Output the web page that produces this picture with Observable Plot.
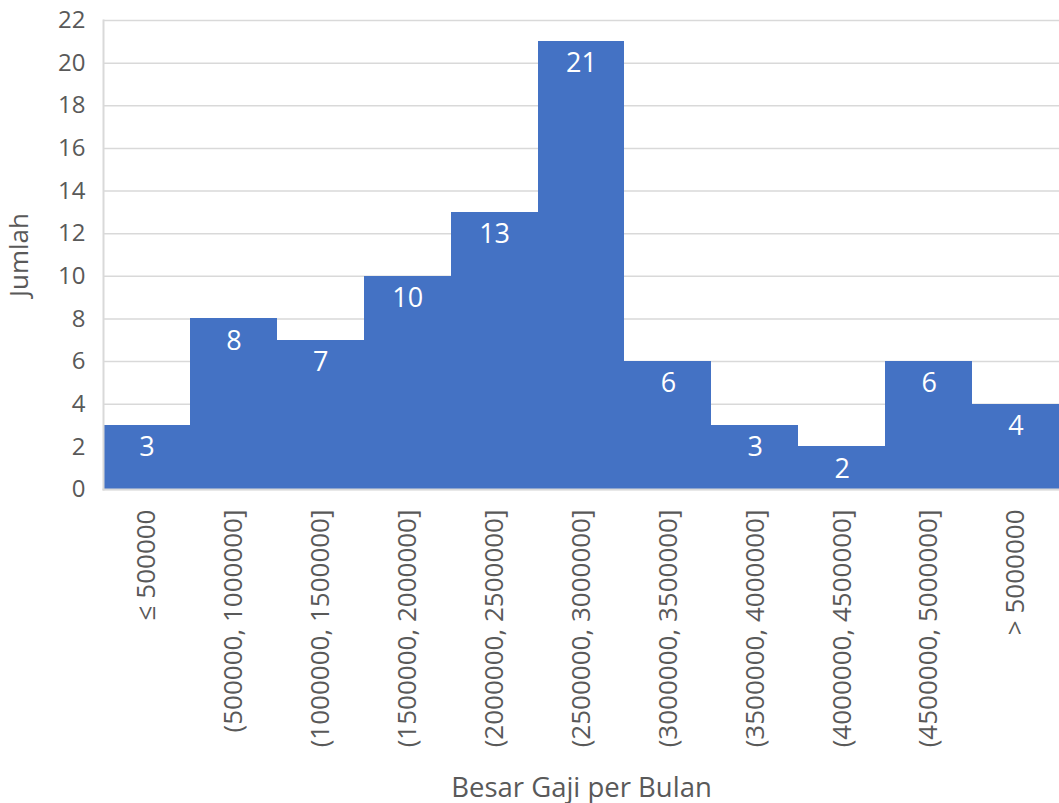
<!DOCTYPE html>
<html>
<head>
<meta charset="utf-8">
<script src="https://cdn.jsdelivr.net/npm/d3@7"></script>
<script src="https://cdn.jsdelivr.net/npm/@observablehq/plot@0.6"></script>
<style>
  html, body { margin: 0; padding: 0; background: #fff; }
</style>
</head>
<body>
<div id="chart"></div>
<script>
// Salary brackets (monthly) and respondent counts
const categories = [
  "≤ 500000",
  "(500000, 1000000]",
  "(1000000, 1500000]",
  "(1500000, 2000000]",
  "(2000000, 2500000]",
  "(2500000, 3000000]",
  "(3000000, 3500000]",
  "(3500000, 4000000]",
  "(4000000, 4500000]",
  "(4500000, 5000000]",
  "> 5000000"
];
const counts = [3, 8, 7, 10, 13, 21, 6, 3, 2, 6, 4];
const yTicks = [0, 2, 4, 6, 8, 10, 12, 14, 16, 18, 20, 22];

const data = categories.map((c, i) => ({bracket: c, count: counts[i]}));

const chart = Plot.plot({
  width: 1059,
  height: 803,
  marginLeft: 103,
  marginRight: 0,
  marginTop: 20,
  marginBottom: 314,
  style: {fontFamily: "'Open Sans', sans-serif", color: "#595959", background: "#fff"},
  x: {domain: categories, padding: 0, round: false},
  y: {domain: [0, 22]},
  marks: [
    Plot.gridY(yTicks, {stroke: "#d9d9d9", strokeOpacity: 1, strokeWidth: 1.5}),
    // adjacent bars with no gaps, as in a histogram
    Plot.barY(data, {x: "bracket", y: "count", fill: "#4472C4", inset: 0, shapeRendering: "crispEdges"}),
    Plot.frame({anchor: "left", stroke: "#d9d9d9", strokeWidth: 2}),
    Plot.frame({anchor: "bottom", stroke: "#d9d9d9", strokeWidth: 2}),
    Plot.text(data, {x: "bracket", y: "count", text: d => String(d.count), dy: 22, fill: "white", fontSize: 27}),
    Plot.axisY(yTicks, {
      tickSize: 0, tickPadding: 18, fontSize: 24, tickFormat: d => String(d),
      label: "Jumlah", labelAnchor: "center", labelArrow: "none", labelOffset: 94
    }),
    Plot.axisX({
      tickSize: 0, tickPadding: 20, tickRotate: -90, fontSize: 26,
      label: "Besar Gaji per Bulan", labelAnchor: "center", labelArrow: "none", labelOffset: 307
    })
  ]
});

// axis titles in their own sizes
chart.querySelectorAll("[aria-label='y-axis label'] text, [aria-label='y-axis label']").forEach(el => el.setAttribute("font-size", "26"));
chart.querySelectorAll("[aria-label='x-axis label'] text, [aria-label='x-axis label']").forEach(el => el.setAttribute("font-size", "27.5"));

document.getElementById("chart").appendChild(chart);
</script>
</body>
</html>
